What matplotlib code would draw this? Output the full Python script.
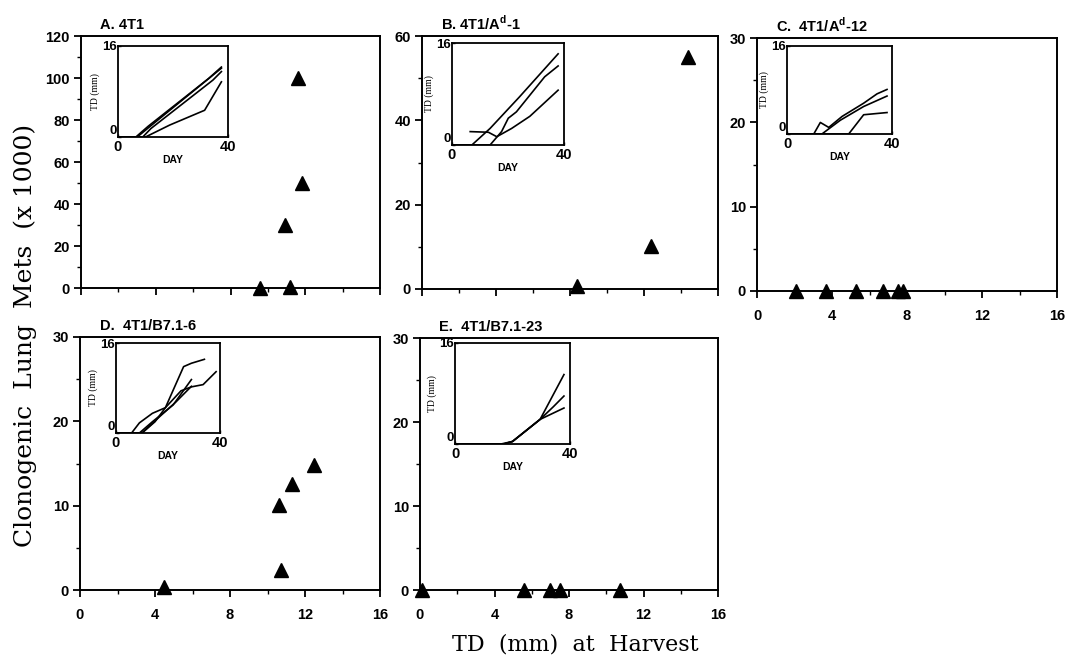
import numpy as np
import matplotlib
matplotlib.use("Agg")
import matplotlib.pyplot as plt
from matplotlib.ticker import MultipleLocator

plt.rcParams['font.family'] = ['Liberation Sans', 'DejaVu Sans']
plt.rcParams['mathtext.fontset'] = 'custom'
plt.rcParams['mathtext.bf'] = 'Liberation Sans:bold'

# main scatter data: TD at harvest (mm) vs clonogenic lung mets (x1000)
td_a = [9.6, 11.2, 11.6, 11.8, 10.9]
mets_a = [0, 0.5, 100, 50, 30]
td_b = [14.4, 12.4, 8.4]
mets_b = [55, 10.2, 0.7]
td_c = [2.1, 3.7, 5.3, 6.7, 7.5, 7.8]
mets_c = [0, 0, 0, 0, 0, 0]
td_d = [4.5, 10.6, 10.7, 11.3, 12.5]
mets_d = [0.3, 10.1, 2.4, 12.6, 14.8]
td_e = [0.1, 5.6, 7.0, 7.5, 10.75]
mets_e = [0, 0, 0, 0, 0]

# inset growth curves: (day, TD mm) per mouse
grow_a = [([0, 7, 11.5, 31.5, 37.6], [0, 0, 1.8, 9.7, 12.1]),
          ([0, 9, 12, 34.5, 37.6], [0, 0, 1.5, 10.0, 11.5]),
          ([0, 6.5, 11, 33, 37.6], [0, 0, 1.9, 10.3, 12.3]),
          ([0, 10, 18.8, 31.5, 37.6], [0, 0, 2.1, 4.7, 9.7])]
grow_b = [([0, 7.1, 13.6, 24, 37.9], [0, 0, 2.6, 7.5, 14.3]),
          ([0, 13.6, 17.7, 20.1, 23, 33.1, 37.9], [0, 0, 2.1, 4.2, 5.2, 10.7, 12.4]),
          ([6.5, 13, 16, 21.3, 27.8, 37.9], [2.1, 2.0, 1.3, 2.6, 4.5, 8.6])]
grow_c = [([0, 10.2, 12.7, 15.9, 21, 29.2, 34.3, 38.1], [0, 0, 2.1, 1.2, 3.2, 5.6, 7.3, 8.1]),
          ([0, 13.3, 20.3, 29.2, 38.1], [0, 0, 2.5, 5.0, 6.9]),
          ([0, 23.5, 29.2, 38.1], [0, 0, 3.5, 3.9])]
grow_d = [([0, 6, 9, 14, 19, 25, 29, 33.5, 38.5], [0, 0, 1.8, 3.5, 4.5, 7.5, 8.2, 8.6, 10.9]),
          ([0, 10, 15, 19, 26, 29, 34], [0, 0, 2, 4.5, 11.8, 12.4, 13.1]),
          ([0, 9, 14, 22, 29], [0, 0, 2, 5, 9.5]),
          ([0, 10, 17, 23, 29], [0, 0, 3, 5.5, 8.3])]
grow_e = [([0, 16, 20, 29.6, 37.9], [0, 0, 0.4, 3.9, 11.0]),
          ([0, 17, 20, 29.6, 34.2, 37.9], [0, 0, 0.4, 3.9, 5.9, 7.6]),
          ([0, 17, 20, 29.6, 37.9], [0, 0, 0.4, 3.9, 5.7])]

W, H = 1068, 663
fig = plt.figure(figsize=(W / 100, H / 100), dpi=100)


def px_axes(l, t, r, b):
    return fig.add_axes([l / W, 1 - b / H, (r - l) / W, (b - t) / H])


panels = [
    # title, td, mets, ymax, ystep, growth, x labels shown, main box (l,t,r,b), inset box
    ("A. 4T1", td_a, mets_a, 120, 20, grow_a, False, (81, 36, 380, 288), (118, 46, 228, 137)),
    ("B. 4T1/A$^{\\mathbf{d}}$-1", td_b, mets_b, 60, 20, grow_b, False, (422, 36, 718, 289), (452, 43, 564, 145)),
    ("C.  4T1/A$^{\\mathbf{d}}$-12", td_c, mets_c, 30, 10, grow_c, True, (757, 38, 1057, 291), (787, 46, 892, 134)),
    ("D.  4T1/B7.1-6", td_d, mets_d, 30, 10, grow_d, True, (80, 337, 380, 590), (116, 343, 220, 433)),
    ("E.  4T1/B7.1-23", td_e, mets_e, 30, 10, grow_e, True, (420, 338, 718, 590), (455, 343, 570, 444)),
]

for title, td, mets, ymax, ystep, growth, xlab, box, ibox in panels:
    ax = px_axes(*box)
    ax.plot(td, mets, linestyle='none', marker='^', color='black', markersize=10, clip_on=False, zorder=5)
    ax.set_xlim(0, 16)
    ax.set_ylim(0, ymax)
    ax.xaxis.set_major_locator(MultipleLocator(4))
    ax.xaxis.set_minor_locator(MultipleLocator(2))
    ax.yaxis.set_major_locator(MultipleLocator(ystep))
    ax.yaxis.set_minor_locator(MultipleLocator(ystep / 2))
    ax.tick_params(which='major', direction='out', length=5, width=1.3, labelsize=10.5)
    ax.tick_params(axis='x', which='major', pad=8, labelbottom=xlab)
    ax.tick_params(axis='y', which='major', pad=3)
    ax.tick_params(which='minor', direction='out', length=3, width=1.0)
    for lab in ax.get_xticklabels() + ax.get_yticklabels():
        lab.set_fontweight('bold')
    for s in ax.spines.values():
        s.set_linewidth(1.4)
    ax.text(0.065, 1.015, title, transform=ax.transAxes, ha='left', va='bottom',
            fontsize=10.5, fontweight='bold')

    ins = px_axes(*ibox)
    for d, t in growth:
        ins.plot(d, t, color='black', linewidth=1.2)
    ins.set_xlim(0, 40)
    ins.set_ylim(0, 16)
    ins.set_xticks([0, 40])
    ins.set_yticks([0, 16])
    ins.tick_params(direction='in', length=2, width=1.0)
    ins.tick_params(axis='x', labelsize=10.5, pad=2)
    ins.tick_params(axis='y', labelsize=9.5, pad=1)
    for lab in ins.get_xticklabels() + ins.get_yticklabels():
        lab.set_fontweight('bold')
    ins.get_yticklabels()[0].set_verticalalignment('bottom')
    for s in ins.spines.values():
        s.set_linewidth(1.3)
    ins.set_xlabel("DAY", fontsize=7.5, fontweight='bold', labelpad=1)
    ins.set_ylabel("TD (mm)", fontsize=7, family='Liberation Serif', labelpad=1)

fig.text(25 / W, 1 - 335 / H, "Clonogenic  Lung  Mets  (x 1000)", rotation=90, ha='center', va='center',
         fontsize=18, family='DejaVu Serif')
fig.text(575 / W, 1 - 645 / H, "TD  (mm)  at  Harvest", ha='center', va='center',
         fontsize=16, family='DejaVu Serif')

fig.savefig("out.png", dpi=100)
